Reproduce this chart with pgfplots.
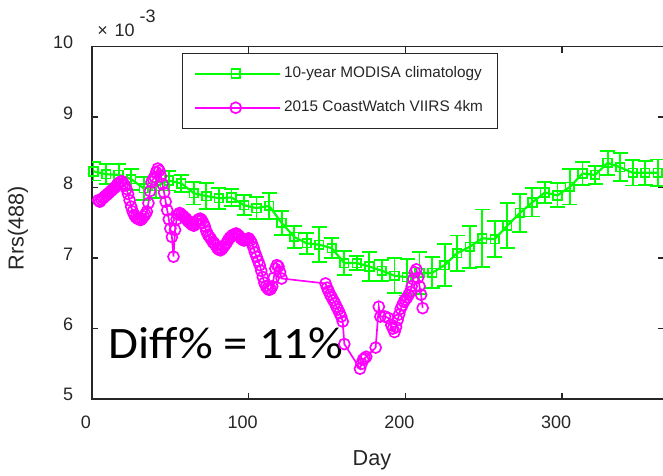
\documentclass[border=0pt]{standalone}
\usepackage{pgfplots}
\usepackage{pgfplotstable}
\pgfplotsset{compat=1.18}
\usepackage{fontspec}
\setmainfont{Liberation Sans}
\newfontfamily\calibri[FakeStretch=1.08]{Carlito}
\definecolor{axgray}{HTML}{262626}
\definecolor{mgreen}{HTML}{00FF00}
\definecolor{mmag}{HTML}{FF00FF}

\pgfplotstableread{
day val err
1 8.23 0.13
9 8.19 0.14
17 8.18 0.15
25 8.12 0.15
33 7.99 0.16
41 8.02 0.17
49 8.10 0.14
57 8.06 0.12
65 7.92 0.16
73 7.88 0.18
81 7.85 0.15
89 7.86 0.12
97 7.75 0.14
105 7.71 0.16
113 7.74 0.18
121 7.50 0.17
129 7.30 0.16
137 7.21 0.15
145 7.19 0.25
153 7.14 0.14
161 6.93 0.17
169 6.93 0.10
177 6.88 0.21
185 6.82 0.15
193 6.75 0.25
201 6.73 0.26
209 6.79 0.30
217 6.79 0.22
225 6.90 0.30
233 7.07 0.25
241 7.16 0.30
249 7.28 0.41
257 7.27 0.26
265 7.46 0.32
273 7.64 0.27
281 7.79 0.20
289 7.93 0.15
297 7.89 0.17
305 8.01 0.25
313 8.20 0.16
321 8.18 0.13
329 8.35 0.17
337 8.29 0.20
345 8.21 0.18
353 8.21 0.17
361 8.21 0.19
}\clim

\pgfplotstableread{
day val
4 7.82
5 7.80
6 7.83
7 7.85
8 7.87
9 7.89
10 7.91
11 7.93
12 7.95
13 7.97
14 7.99
15 8.01
16 8.04
17 8.06
18 8.08
19 8.09
20 8.06
21 8.03
22 7.98
23 7.91
24 7.82
25 7.73
26 7.66
27 7.61
28 7.58
29 7.56
30 7.55
31 7.54
32 7.56
33 7.59
34 7.62
35 7.66
36 7.78
37 7.95
38 8.08
39 8.12
40 8.15
41 8.22
42 8.27
43 8.24
44 8.16
45 8.05
46 7.93
47 7.80
48 7.68
49 7.55
50 7.42
51 7.30
52 7.02
53 7.40
54 7.55
55 7.62
56 7.64
57 7.62
58 7.60
59 7.58
60 7.56
61 7.53
62 7.51
63 7.49
64 7.47
65 7.46
66 7.50
67 7.53
68 7.55
69 7.56
70 7.54
71 7.50
72 7.45
73 7.38
74 7.33
75 7.30
76 7.27
77 7.23
78 7.21
79 7.18
80 7.14
81 7.12
82 7.11
83 7.13
84 7.16
85 7.19
86 7.22
87 7.26
88 7.29
89 7.31
90 7.33
91 7.34
92 7.35
93 7.33
94 7.31
95 7.28
96 7.26
97 7.25
98 7.26
99 7.27
100 7.28
101 7.25
102 7.21
103 7.15
104 7.08
105 7.02
106 6.96
107 6.90
108 6.82
109 6.73
110 6.65
111 6.60
112 6.57
113 6.55
114 6.56
115 6.60
116 6.72
117 6.85
118 6.90
119 6.88
120 6.80
121 6.71
149 6.64
150 6.58
151 6.53
152 6.48
153 6.44
154 6.40
155 6.36
156 6.31
157 6.27
158 6.22
159 6.17
160 6.10
161 5.78
171 5.43
172 5.50
173 5.56
174 5.58
175 5.60
181 5.73
183 6.31
184 6.17
187 6.17
189 6.15
191 6.05
192 6.00
193 5.95
194 6.02
195 6.12
196 6.20
197 6.28
198 6.33
199 6.38
200 6.41
201 6.44
202 6.48
203 6.52
204 6.60
205 6.70
206 6.80
207 6.84
208 6.72
209 6.60
210 6.48
211 6.29
}\viirs

\begin{document}
\begin{tikzpicture}
\useasboundingbox (-55.2pt,-45.6pt) rectangle (342.6pt,239.4pt);
\begin{axis}[
  at={(0,0)}, anchor=south west,
  width=343.2pt, height=211.4pt, scale only axis,
  xmin=0, xmax=365, ymin=5, ymax=10,
  xtick={0,100,200,300}, ytick={5,6,7,8,9,10},
  tick align=inside, xtick pos=both, ytick pos=both,
  major tick length=3.6pt,
  axis line style={axgray, line width=0.9pt},
  every tick/.style={axgray, line width=0.9pt},
  ticklabel style={font=\fontsize{10.8}{13}\selectfont, text=axgray},
  /pgf/number format/assume math mode=true,
  xticklabel style={yshift=-6.6pt, xshift=-3.6pt},
  yticklabel style={xshift=-7.8pt, yshift=2.5pt},
  scaled ticks=false,
  xlabel={Day}, ylabel={Rrs(488)},
  every axis x label/.style={at={(rel axis cs:0.5,0)}, anchor=center, xshift=-3.6pt, yshift=-36.6pt, font=\fontsize{13}{15}\selectfont, text=axgray},
  every axis y label/.style={at={(rel axis cs:0,0.5)}, anchor=center, xshift=-44.4pt, yshift=-3.2pt, rotate=90, font=\fontsize{13}{15}\selectfont, text=axgray},
  legend style={at={(rel axis cs:0.157,0.983)}, anchor=north west, draw=axgray, line width=0.6pt, fill=white,
    font=\fontsize{9.2}{11}\selectfont, text=axgray, inner xsep=7pt, inner ysep=2pt, row sep=0pt,
    nodes={inner xsep=2pt, inner ysep=6pt, text height=6.6pt, text depth=1.9pt}},
  legend cell align=left,
]
% error bars of the climatology (drawn alone)
\addplot[draw=none, mark=none, forget plot,
  error bars/y dir=both, error bars/y explicit, error bars/error mark=-,
  error bars/error bar style={draw=mgreen, line width=1.1pt},
  error bars/error mark options={draw=mgreen, line width=1.1pt, mark size=4.5pt, rotate=90}]
  table[x=day, y=val, y error=err] {\clim};
% climatology line with squares
\addplot[mgreen, line width=1.3pt, mark=square, mark size=2.6pt, mark options={solid, mgreen, line width=1.0pt},
  legend image code/.code={\draw[mgreen, line width=1.1pt] (0pt,0pt) -- (51pt,0pt); \draw[mgreen, line width=1.0pt] plot[mark=square, mark size=2.6pt] coordinates {(24.5pt,0pt)};}]
  table[x=day, y=val] {\clim};
\addlegendentry{10-year MODISA climatology}
\addplot[mmag, line width=1.0pt, mark=o, mark size=3.3pt, mark options={solid, mmag, line width=1.0pt},
  legend image code/.code={\draw[mmag, line width=1.0pt] (0pt,0pt) -- (51pt,0pt); \draw[mmag, line width=1.0pt] plot[mark=o, mark size=3.3pt] coordinates {(24.5pt,0pt)};}]
  table[x=day, y=val] {\viirs};
\addlegendentry{2015 CoastWatch VIIRS 4km}
\node[anchor=base west, inner sep=0pt, font=\calibri\fontsize{27}{30}\selectfont] at (axis cs:10.5,5.58) {Diff\% = 11\%};
\end{axis}
\node[anchor=base west, inner sep=0pt, font=\fontsize{10.8}{13}\selectfont, text=axgray] at (3pt,217.8pt) {×\hspace{4pt}10\hspace{3pt}\raisebox{8.4pt}{-3}};
\end{tikzpicture}
\end{document}
